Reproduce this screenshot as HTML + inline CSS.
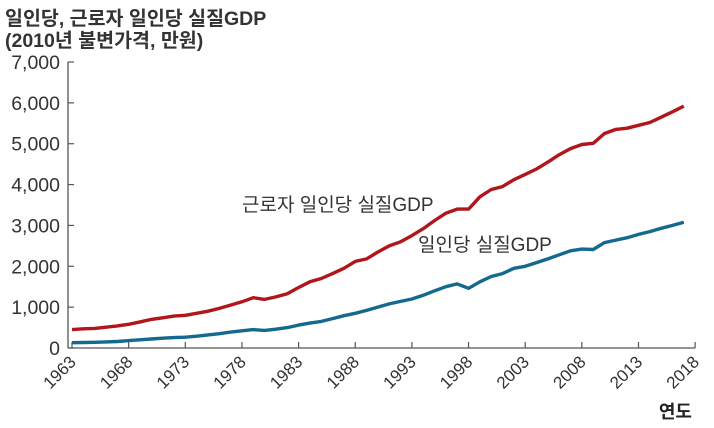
<!DOCTYPE html>
<html><head><meta charset="utf-8">
<style>
html,body{margin:0;padding:0;background:#fff;}
svg{display:block;font-family:"Liberation Sans","Noto Sans CJK KR",sans-serif;}
</style></head>
<body>
<svg id="chart" width="714" height="428" viewBox="0 0 714 428">
<text x="5" y="25" font-size="19.5" font-weight="bold" fill="#333">일인당, 근로자 일인당 실질GDP</text>
<text x="5" y="47" font-size="19.5" font-weight="bold" fill="#333">(2010년 불변가격, 만원)</text>
<g id="axes"></g>
<g id="series"></g>
<text x="242" y="211" font-size="19" fill="#333">근로자 일인당 실질GDP</text>
<text x="418" y="251" font-size="19" fill="#333">일인당 실질GDP</text>
<text x="692" y="418" font-size="18" font-weight="bold" fill="#222" text-anchor="end">연도</text>
</svg>
<script>
const years = [];
for (let y = 1963; y <= 2017; y++) years.push(y);
const workerGdp = [450,470,480,510,540,580,640,700,740,780,800,850,900,970,1050,1130,1230,1190,1250,1330,1480,1620,1700,1820,1950,2120,2180,2350,2500,2600,2750,2920,3120,3300,3400,3400,3700,3880,3950,4120,4250,4380,4550,4730,4880,4980,5010,5250,5350,5380,5450,5520,5650,5780,5920];
const perCapitaGdp = [130,135,140,150,160,180,200,220,240,255,265,290,320,350,390,420,450,430,460,500,560,610,650,720,790,850,920,1000,1080,1140,1200,1290,1400,1500,1570,1460,1620,1750,1820,1950,2000,2090,2180,2280,2380,2420,2410,2580,2640,2700,2780,2850,2930,3000,3080];
const yTicks = [0,1000,2000,3000,4000,5000,6000,7000];
const yTickLabels = ["0","1,000","2,000","3,000","4,000","5,000","6,000","7,000"];
const xTicks = [1963,1968,1973,1978,1983,1988,1993,1998,2003,2008,2013,2018];

const NS = "http://www.w3.org/2000/svg";
const xs = yr => 72 + (yr - 1963) * 11.33;
const ys = v => 348 - v * (286 / 7000);
const axes = document.getElementById('axes');
const series = document.getElementById('series');
function mk(tag, attrs, parent) {
  const e = document.createElementNS(NS, tag);
  for (const k in attrs) e.setAttribute(k, attrs[k]);
  parent.appendChild(e);
  return e;
}
const yAxis = mk('line', {x1:68,y1:ys(7000),x2:68,y2:348,stroke:'#555','stroke-width':1.3}, axes);


const xAxis = mk('line', {x1:68,y1:348,x2:xs(2018),y2:348,stroke:'#555','stroke-width':1.3}, axes);


yTicks.forEach((t, i) => {
  const tk = mk('line', {x1:68,y1:ys(t),x2:74,y2:ys(t),stroke:'#555','stroke-width':1.2}, axes);
  
  
  const lb = mk('text', {x:60,y:ys(t)+7,'font-size':19.5,'text-anchor':'end',fill:'#333'}, axes);
  lb.textContent = yTickLabels[i];
  
  
});
xTicks.forEach(t => {
  const x = xs(t);
  const tk = mk('line', {x1:x,y1:348,x2:x,y2:342,stroke:'#555','stroke-width':1.2}, axes);
  
  
  const lb = mk('text', {x:x+5,y:363,'font-size':17,'text-anchor':'end',fill:'#333',transform:`rotate(-45 ${x+5} 363)`}, axes);
  lb.textContent = String(t);
  
  
});
function line(vals, color, name) {
  const d = vals.map((v, i) => (i ? 'L' : 'M') + xs(years[i]).toFixed(1) + ' ' + ys(v).toFixed(1)).join(' ');
  const p = mk('path', {d, fill:'none', stroke:color, 'stroke-width':3.4, 'stroke-linejoin':'round'}, series);
  
  
}
line(workerGdp, '#b0161b', 'worker-gdp-line');
line(perCapitaGdp, '#14698f', 'per-capita-gdp-line');
</script>
</body></html>
